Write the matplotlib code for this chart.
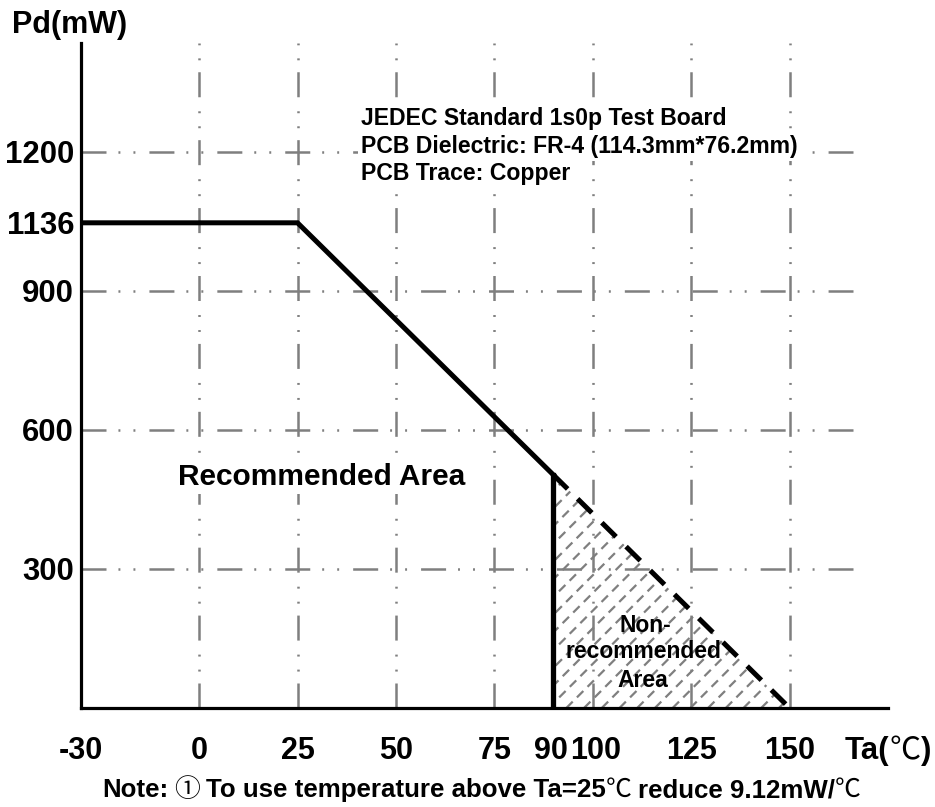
import matplotlib
matplotlib.use('Agg')
import matplotlib.pyplot as plt
import matplotlib.transforms as mtransforms
from matplotlib.patches import Polygon
import numpy as np

plt.rcParams['font.family'] = ['Liberation Sans', 'Noto Sans CJK SC', 'DejaVu Sans']
plt.rcParams['font.weight'] = 'bold'
plt.rcParams['lines.scale_dashes'] = False

# datos (a linha de 1136 aparece desenhada mais baixa no original)
ta_curva = [-30, 25, 90]
pd_curva = [1047, 1047, 503]
ta_tracejada = [90, 150]
pd_tracejada = [503, 0]

x_ticks = [-30, 0, 25, 50, 75, 90, 100, 125, 150]
x_labels = ['-30', '0', '25', '50', '75', '90', '100', '125', '150']
y_ticks = [300, 600, 900, 1047, 1200]
y_labels = ['300', '600', '900', '1136', '1200']

grade_x = [0, 25, 50, 75, 100, 125, 150]
grade_y = [300, 600, 900, 1200]

W, H = 935, 807
fig = plt.figure(figsize=(W / 100, H / 100), dpi=100)
ax = fig.add_axes([81 / W, 1 - 708 / H, (888 - 81) / W, (708 - 43) / H])
ax.set_xlim(-30, 175)
ax.set_ylim(0, 1435)

for s in ['top', 'right']:
	ax.spines[s].set_visible(False)
for s in ['left', 'bottom']:
	ax.spines[s].set_linewidth(2.3)
	ax.spines[s].set_zorder(5)

cinza = '#7f7f7f'
traco_grade = (0, (18, 8.6, 1.4, 9.4, 1.4, 10.1))
for gx in grade_x:
	ax.plot([gx, gx], [0, 1435], color=cinza, lw=1.8, ls=traco_grade, zorder=1)
for gy in grade_y:
	ax.plot([-30, 166], [gy, gy], color=cinza, lw=1.8, ls=traco_grade, zorder=1)

# hachura tracejada da area nao recomendada
tri = Polygon([(ta_tracejada[0], 0), (ta_tracejada[0], pd_tracejada[0]), (ta_tracejada[1], 0)],
	closed=True, fc='none', ec='none')
ax.add_patch(tri)
p0 = ax.transData.transform((0, 0))
p1 = ax.transData.transform((1, 1))
k = (p1[0] - p0[0]) / (p1[1] - p0[1])
for c in np.arange(ta_tracejada[0] - pd_tracejada[0] / k - 5, ta_tracejada[1] + 5, 4.5):
	ln, = ax.plot([c, c + 1435 / k], [0, 1435], color=cinza, lw=1.6, ls=(0, (6.5, 4.3)), zorder=2)
	ln.set_clip_path(tri)

ax.plot(ta_curva, pd_curva, color='k', lw=3.6, zorder=4, solid_joinstyle='miter')
ax.plot([ta_curva[-1], ta_curva[-1]], [0, pd_curva[-1]], color='k', lw=3.8, zorder=4)
ax.plot(ta_tracejada, pd_tracejada, color='k', lw=3.6, ls=(0, (14.4, 10.1)), zorder=4)

ax.set_xticks([])
ax.set_yticks(y_ticks, y_labels)
ax.tick_params(axis='y', length=0, pad=5, labelsize=22.4)

# 90 e 100 ficam colados no original; afasta um pouco
desloc = {90: -2, 100: 3}
trans = mtransforms.blended_transform_factory(ax.transData, fig.transFigure)
for x, lab in zip(x_ticks, x_labels):
	tr = trans + mtransforms.ScaledTranslation(desloc.get(x, 0) / 100, 0, fig.dpi_scale_trans)
	ax.text(x, 1 - 759 / H, lab, transform=tr, ha='center', va='baseline', fontsize=22)

def texto(px, py, s, **kw):
	return fig.text(px / W, 1 - py / H, s, va='baseline', **kw)

# texto em pedacos: simbolos ① e ℃ em fonte CJK fina
r = fig.canvas.get_renderer()
def texto_misto(px, py, pedacos, tam, espaco):
	x = px
	for s, cjk, depois in pedacos:
		if cjk:
			t = texto(x, py, s, fontsize=tam, family='Noto Sans CJK SC', weight='normal')
		else:
			t = texto(x, py, s, fontsize=tam)
		bb = t.get_window_extent(r)
		x = bb.x1 + (espaco if depois else 0)

texto(12, 33, 'Pd(mW)', fontsize=22)
texto_misto(845, 759, [('Ta(', False, 0), ('℃', True, 0), (')', False, 0)], 22.4, 0)
texto_misto(102, 797, [('Note:', False, 1), ('①', True, 1), ('To use temperature above Ta=25', False, 0),
	('℃', True, 1), ('reduce 9.12mW/', False, 0), ('℃', True, 0)], 18.6, 6)

fundo = dict(fc='white', ec='none', pad=2)
texto(361, 125, 'JEDEC Standard 1s0p Test Board', fontsize=16.6, bbox=fundo)
texto(361, 153, 'PCB Dielectric: FR-4 (114.3mm*76.2mm)', fontsize=16.6, bbox=fundo)
texto(361, 180, 'PCB Trace: Copper', fontsize=16.6, bbox=fundo)
texto(178, 485, 'Recommended Area', fontsize=21.5, bbox=fundo)

texto(645, 632, 'Non-', fontsize=16.5, ha='center')
texto(643, 658, 'recommended', fontsize=16.5, ha='center')
texto(643, 687, 'Area', fontsize=16.5, ha='center')

fig.savefig('out.png', dpi=100)
